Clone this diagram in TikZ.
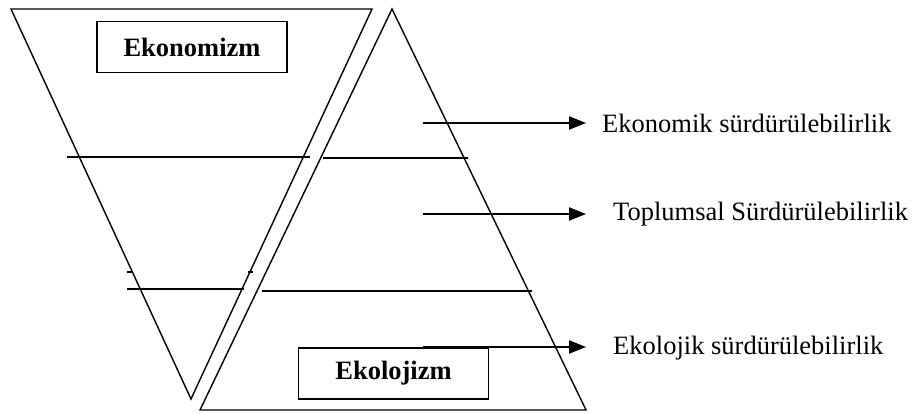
\documentclass[tikz,border=0pt]{standalone}
\usepackage{fontspec}
\setmainfont{Liberation Serif}
\usetikzlibrary{arrows.meta}
\tikzset{
  edge/.style={line width=1.4pt, line join=miter},
  level/.style={line width=1.4pt},
  labelbox/.style={draw, line width=1.6pt, minimum width=190pt, minimum height=51pt, inner sep=0pt, font=\fontsize{26.5}{30}\selectfont\bfseries},
  pointer/.style={line width=2pt, -{Triangle[length=17pt,width=13pt]}},
  label/.style={anchor=west, inner sep=0pt, font=\fontsize{26.5}{30}\selectfont}
}
\begin{document}
\begin{tikzpicture}[x=1pt,y=-1pt]
\useasboundingbox (0,0) rectangle (917,414);
% inverted triangle
\coordinate (iL) at (11,9);
\coordinate (iR) at (372,9);
\coordinate (iB) at (191,399);
\draw[edge] (iL) -- (iR) -- (iB) -- cycle;
% upright triangle
\coordinate (uT) at (392,9);
\coordinate (uL) at (200,410);
\coordinate (uR) at (586,410);
\draw[edge] (uT) -- (uR) -- (uL) -- cycle;
% boxes
\node[labelbox] (eko) at (192,47) {Ekonomizm};
\node[labelbox] (ekl) at (393.5,373.5) {Ekolojizm};
% level lines
\coordinate (a1) at (67,157); \coordinate (a2) at (310,157);
\coordinate (a3) at (323,158); \coordinate (a4) at (468,158);
\draw[level] (a1) -- (a2);
\draw[level] (a3) -- (a4);
\coordinate (t1) at (127,272); \coordinate (t2) at (133,272);
\coordinate (t3) at (248,272); \coordinate (t4) at (253,272);
\draw[level] (t1) -- (t2);
\draw[level] (t3) -- (t4);
\coordinate (b1) at (127,289); \coordinate (b2) at (244,289);
\coordinate (b3) at (262,291); \coordinate (b4) at (532,291);
\draw[level] (b1) -- (b2);
\draw[level] (b3) -- (b4);
% labels and arrows
\node[label] (l1) at (602,123) {Ekonomik sürdürülebilirlik};
\node[label] (l2) at (613,214) {Toplumsal Sürdürülebilirlik};
\node[label] (l3) at (613,348) {Ekolojik sürdürülebilirlik};
\coordinate (s1) at (423,123);
\coordinate (s2) at (423,214);
\coordinate (s3) at (423,347);
\coordinate (e1) at (586,123);
\coordinate (e2) at (586,214);
\coordinate (e3) at (586,347);
\draw[pointer] (s1) -- (e1);
\draw[pointer] (s2) -- (e2);
\draw[pointer] (s3) -- (e3);
\end{tikzpicture}
\end{document}
